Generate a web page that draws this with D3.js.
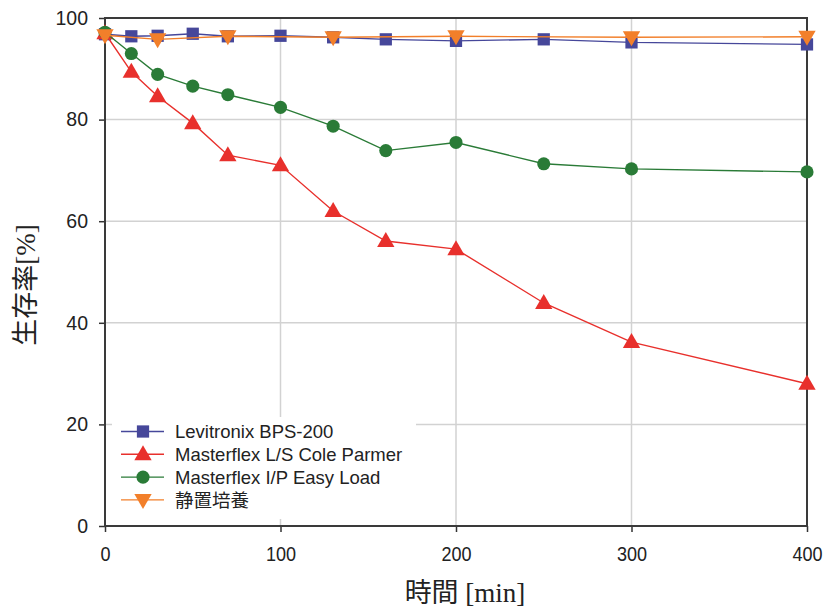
<!DOCTYPE html>
<html>
<head>
<meta charset="utf-8">
<script src="https://cdn.jsdelivr.net/npm/d3@7"></script>
<style>
  html, body { margin: 0; padding: 0; background: #ffffff; }
  svg { display: block; }
</style>
</head>
<body>
<svg id="chart" width="824" height="608"></svg>
<script>
// Cell survival over time for each pump / static culture
const timesMain = [0, 15, 30, 50, 70, 100, 130, 160, 200, 250, 300, 400];
const levitronix = [96.8, 96.4, 96.5, 96.9, 96.4, 96.5, 96.2, 95.8, 95.5, 95.8, 95.2, 94.8];
const coleParmer = [97.0, 89.4, 84.6, 79.3, 73.0, 71.0, 62.0, 56.1, 54.5, 43.9, 36.2, 28.0];
const easyLoad   = [97.2, 93.0, 88.9, 86.6, 84.9, 82.4, 78.7, 73.9, 75.5, 71.3, 70.3, 69.7];
const timesStatic = [0, 30, 70, 130, 200, 300, 400];
const staticCulture = [96.6, 95.8, 96.4, 96.2, 96.4, 96.2, 96.3];

const xTicks = [0, 100, 200, 300, 400];
const yTicks = [0, 20, 40, 60, 80, 100];

const seriesNames = ["Levitronix BPS-200", "Masterflex L/S Cole Parmer", "Masterflex I/P Easy Load", "静置培養"];
const seriesColors = ["#46479a", "#e8302c", "#2a7b37", "#f27f2a"];
const seriesSymbols = ["square", "triangleUp", "circle", "triangleDown"];
const seriesTimes = [timesMain, timesMain, timesMain, timesStatic];
const seriesValues = [levitronix, coleParmer, easyLoad, staticCulture];

const svg = d3.select("#chart");
const margin = { left: 105, right: 17, top: 18, bottom: 82 };
const W = 824, H = 608;
const x = d3.scaleLinear().domain([0, 400]).range([margin.left, W - margin.right]);
const y = d3.scaleLinear().domain([0, 100]).range([H - margin.bottom, margin.top]);

const sansFont = "'Liberation Sans', Arial, sans-serif";

// grid
const grid = svg.append("g");
grid.selectAll("line.gx").data(xTicks.slice(1, -1)).join("line")
  .attr("x1", d => x(d)).attr("x2", d => x(d))
  .attr("y1", y(0)).attr("y2", y(100))
  .attr("stroke", "#d2d2d2").attr("stroke-width", 1.5);
grid.selectAll("line.gy").data(yTicks.slice(1, -1)).join("line")
  .attr("x1", x(0)).attr("x2", x(400))
  .attr("y1", d => y(d)).attr("y2", d => y(d))
  .attr("stroke", "#d2d2d2").attr("stroke-width", 1.5);

// legend background covers the grid
const legend = svg.append("g");
legend.append("rect")
  .attr("x", 112).attr("y", 417).attr("width", 304).attr("height", 102)
  .attr("fill", "#ffffff");

// axes
const xAxis = d3.axisBottom(x).tickValues(xTicks).tickSize(6).tickFormat(d3.format("d"));
const yAxis = d3.axisLeft(y).tickValues(yTicks).tickSize(6).tickPadding(11).tickFormat(d3.format("d"));

const gx = svg.append("g").attr("transform", `translate(0,${y(0)})`).call(xAxis);
gx.select(".domain").remove();
gx.selectAll(".tick line").attr("stroke", "#333").attr("stroke-width", 1.5);
gx.selectAll(".tick text")
  .attr("font-family", sansFont)
  .attr("font-size", 21).attr("fill", "#222")
  .attr("y", 35).attr("dy", null)
  .attr("transform", "scale(0.86,1)");

const gy = svg.append("g").attr("transform", `translate(${x(0)},0)`).call(yAxis);
gy.select(".domain").remove();
gy.selectAll(".tick line").attr("stroke", "#333").attr("stroke-width", 1.5);
gy.selectAll(".tick text")
  .attr("font-family", sansFont).attr("font-size", 19.5).attr("fill", "#222");

// frame
svg.append("rect")
  .attr("x", x(0)).attr("y", y(100))
  .attr("width", x(400) - x(0)).attr("height", y(0) - y(100))
  .attr("fill", "none").attr("stroke", "#3a3a3a").attr("stroke-width", 2);

// symbols
function symbolPath(kind, size) {
  if (kind === "square") return d3.symbol().type(d3.symbolSquare).size(size)();
  if (kind === "circle") return d3.symbol().type(d3.symbolCircle).size(size)();
  return d3.symbol().type(d3.symbolTriangle).size(size)();
}
const symbolSizes = { square: 150, circle: 135, triangleUp: 130, triangleDown: 130 };
function placeSymbol(sel, kind, cx, cy) {
  const rot = kind === "triangleDown" ? 180 : 0;
  const dy = kind === "triangleUp" ? 1 : (kind === "triangleDown" ? -1 : 0);
  sel.attr("d", symbolPath(kind, symbolSizes[kind]))
     .attr("transform", `translate(${cx},${cy + dy}) rotate(${rot})`);
}

const line = d3.line().x(d => x(d[0])).y(d => y(d[1]));

seriesNames.forEach((name, i) => {
  const pts = seriesTimes[i].map((t, j) => [t, seriesValues[i][j]]);
  const g = svg.append("g");
  g.append("path").datum(pts).attr("d", line)
    .attr("fill", "none").attr("stroke", seriesColors[i]).attr("stroke-width", 1.4);
  g.selectAll("path.m").data(pts).join("path").attr("class", "m")
    .attr("fill", seriesColors[i])
    .each(function(d) { placeSymbol(d3.select(this), seriesSymbols[i], x(d[0]), y(d[1])); });
});

// legend entries
seriesNames.forEach((name, i) => {
  const ly = 431.5 + i * 22.8;
  legend.append("line").attr("x1", 121).attr("x2", 164).attr("y1", ly).attr("y2", ly)
    .attr("stroke", seriesColors[i]).attr("stroke-width", 1.4);
  const m = legend.append("path").attr("fill", seriesColors[i]);
  placeSymbol(m, seriesSymbols[i], 143, ly);
  legend.append("text").attr("x", 175).attr("y", ly).attr("dy", "0.36em")
    .attr("font-family", sansFont + ", 'Noto Sans CJK JP'")
    .attr("font-size", 18.5).attr("fill", "#222").text(name);
});

// axis titles
const titleFont = "'Liberation Serif', 'Noto Sans CJK JP', serif";
svg.append("text").attr("x", 465).attr("y", 602)
  .attr("text-anchor", "middle").attr("font-family", titleFont)
  .attr("font-size", 27).attr("fill", "#222").text("時間 [min]");
svg.append("text")
  .attr("transform", `translate(35,285) rotate(-90)`)
  .attr("text-anchor", "middle").attr("font-family", titleFont)
  .attr("font-size", 27).attr("fill", "#222").text("生存率[%]");
</script>
</body>
</html>
